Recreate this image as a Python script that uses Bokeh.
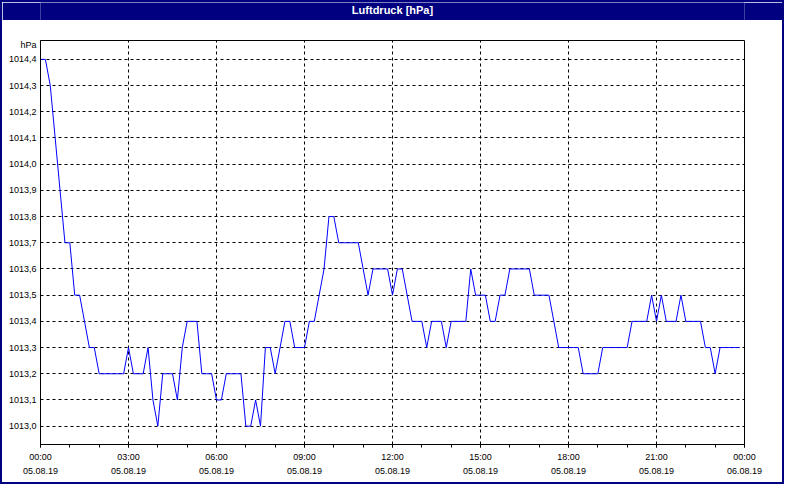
import pandas as pd
from bokeh.plotting import figure
from bokeh.layouts import column
from bokeh.models import (ColumnDataSource, Range1d, FixedTicker, DatetimeTickFormatter,
                          DatetimeAxis, CustomJSTickFormatter, Label)
from bokeh.embed import file_html
from bokeh.resources import INLINE

# ---------------- data ----------------
TITLE = "Luftdruck [hPa]"
UNIT = "hPa"
START = "2019-08-05 00:00"
STEP = "10min"

pressure = [
    1014.4, 1014.4, 1014.3, 1014.1, 1013.9, 1013.7, 1013.7, 1013.5, 1013.5, 1013.4,
    1013.3, 1013.3, 1013.2, 1013.2, 1013.2, 1013.2, 1013.2, 1013.2, 1013.3, 1013.2,
    1013.2, 1013.2, 1013.3, 1013.1, 1013.0, 1013.2, 1013.2, 1013.2, 1013.1, 1013.3,
    1013.4, 1013.4, 1013.4, 1013.2, 1013.2, 1013.2, 1013.1, 1013.1, 1013.2, 1013.2,
    1013.2, 1013.2, 1013.0, 1013.0, 1013.1, 1013.0, 1013.3, 1013.3, 1013.2, 1013.3,
    1013.4, 1013.4, 1013.3, 1013.3, 1013.3, 1013.4, 1013.4, 1013.5, 1013.6, 1013.8,
    1013.8, 1013.7, 1013.7, 1013.7, 1013.7, 1013.7, 1013.6, 1013.5, 1013.6, 1013.6,
    1013.6, 1013.6, 1013.5, 1013.6, 1013.6, 1013.5, 1013.4, 1013.4, 1013.4, 1013.3,
    1013.4, 1013.4, 1013.4, 1013.3, 1013.4, 1013.4, 1013.4, 1013.4, 1013.6, 1013.5,
    1013.5, 1013.5, 1013.4, 1013.4, 1013.5, 1013.5, 1013.6, 1013.6, 1013.6, 1013.6,
    1013.6, 1013.5, 1013.5, 1013.5, 1013.5, 1013.4, 1013.3, 1013.3, 1013.3, 1013.3,
    1013.3, 1013.2, 1013.2, 1013.2, 1013.2, 1013.3, 1013.3, 1013.3, 1013.3, 1013.3,
    1013.3, 1013.4, 1013.4, 1013.4, 1013.4, 1013.5, 1013.4, 1013.5, 1013.4, 1013.4,
    1013.4, 1013.5, 1013.4, 1013.4, 1013.4, 1013.4, 1013.3, 1013.3, 1013.2, 1013.3,
    1013.3, 1013.3, 1013.3, 1013.3,
]

y_ticks = [1013.0, 1013.1, 1013.2, 1013.3, 1013.4, 1013.5, 1013.6, 1013.7,
           1013.8, 1013.9, 1014.0, 1014.1, 1014.2, 1014.3, 1014.4]
x_major_hours = [0, 3, 6, 9, 12, 15, 18, 21, 24]
x_minor_hours = list(range(25))
y_min, y_max = 1012.93, 1014.472

NAVY = "#000080"
FONT = "Liberation Sans"

# ---------------- build ----------------
times = pd.date_range(START, periods=len(pressure), freq=STEP)
src = ColumnDataSource(dict(t=times, p=pressure))

t0 = pd.Timestamp(START)


def to_ms(h):
    return (t0 + pd.Timedelta(hours=h)).value / 1e6


major_ms = [to_ms(h) for h in x_major_hours]
minor_ms = [to_ms(h) for h in x_minor_hours]

# the unit caption sits just below the top of the frame, left of the axis
unit_pos = y_max - (y_max - y_min) * 5.0 / 420.0

# title bar
tf = figure(width=780, height=18, toolbar_location=None, output_backend="svg",
            x_range=Range1d(0, 1), y_range=Range1d(0, 1),
            x_axis_location=None, y_axis_location=None, min_border=0)
tf.grid.visible = False
tf.outline_line_color = None
tf.background_fill_color = NAVY
tf.border_fill_color = NAVY
tf.add_layout(Label(x=0.5, y=0.6, text=TITLE, text_align="center", text_baseline="middle",
                    text_color="white", text_font=FONT, text_font_size="11px",
                    text_font_style="bold"))

# main chart
p = figure(width=780, height=462, toolbar_location=None, output_backend="svg",
           x_axis_type="datetime",
           x_range=Range1d(t0, t0 + pd.Timedelta(hours=24)),
           y_range=Range1d(y_min, y_max),
           min_border_left=38, min_border_right=38, min_border_top=20, min_border_bottom=38)
p.background_fill_color = "white"
p.border_fill_color = "white"
p.outline_line_color = "black"
p.outline_line_width = 1

p.line(x="t", y="p", source=src, line_color="#0000FF", line_width=1)

xt = FixedTicker(ticks=major_ms, minor_ticks=minor_ms)
fmt_kw = dict(microseconds="%H:%M", milliseconds="%H:%M", seconds="%H:%M", minsec="%H:%M",
              minutes="%H:%M", hourmin="%H:%M", hours="%H:%M", days="%H:%M",
              months="%H:%M", years="%H:%M")
date_kw = {k: "%d.%m.%y" for k in fmt_kw}

xa = p.xaxis[0]
xa.ticker = xt
xa.formatter = DatetimeTickFormatter(**fmt_kw)
xa.axis_line_color = "black"
xa.major_tick_out = 3
xa.major_tick_in = 0
xa.minor_tick_out = 3
xa.minor_tick_in = 0
xa.major_tick_line_color = "black"
xa.minor_tick_line_color = "black"
xa.major_label_standoff = 4
xa.major_label_text_font = FONT
xa.major_label_text_font_size = "9px"
xa.major_label_text_color = "black"

da = DatetimeAxis(ticker=FixedTicker(ticks=major_ms, minor_ticks=[]),
                  formatter=DatetimeTickFormatter(**date_kw))
da.axis_line_color = None
da.major_tick_line_color = None
da.minor_tick_line_color = None
da.major_tick_out = 0
da.major_tick_in = 0
da.major_label_standoff = 3
da.major_label_text_font = FONT
da.major_label_text_font_size = "9px"
da.major_label_text_color = "black"
p.add_layout(da, "below")

ya = p.yaxis[0]
ya.ticker = FixedTicker(ticks=y_ticks + [unit_pos], minor_ticks=[])
ya.formatter = CustomJSTickFormatter(
    args=dict(unit=UNIT, pos=unit_pos),
    code="return Math.abs(tick - pos) < 1e-6 ? unit : tick.toFixed(1).replace('.', ',');")
ya.axis_line_color = "black"
ya.major_tick_out = 0
ya.major_tick_in = 0
ya.minor_tick_out = 0
ya.minor_tick_in = 0
ya.major_label_standoff = 4
ya.major_label_text_font = FONT
ya.major_label_text_font_size = "9px"
ya.major_label_text_color = "black"

p.xgrid.ticker = FixedTicker(ticks=major_ms, minor_ticks=[])
p.ygrid.ticker = FixedTicker(ticks=y_ticks, minor_ticks=[])
for g in (p.xgrid[0], p.ygrid[0]):
    g.grid_line_color = "black"
    g.grid_line_dash = "3 3"
    g.grid_line_width = 1
    g.grid_line_alpha = 1

layout = column(tf, p, spacing=0, styles={"border": "2px solid #000080"})

open("out.html", "w").write(file_html(layout, INLINE))
